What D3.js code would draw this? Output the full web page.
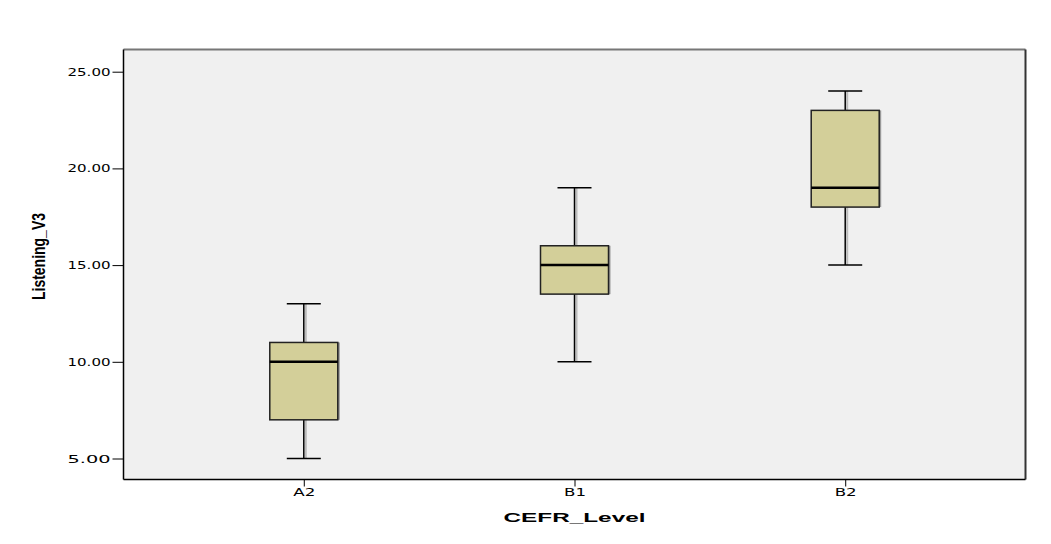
<!DOCTYPE html>
<html><head><meta charset="utf-8">
<script src="https://cdn.jsdelivr.net/npm/d3@7"></script>
<style>body{margin:0;background:#fff;}</style>
</head><body>
<svg id="c" width="1051" height="544"></svg>
<script>
const categories = ["A2", "B1", "B2"];
const whiskerLow = [5, 10, 15];
const q1 = [7, 13.5, 18];
const median = [10, 15, 19];
const q3 = [11, 16, 23];
const whiskerHigh = [13, 19, 24];
const yTicks = [5, 10, 15, 20, 25];
const xTitle = "CEFR_Level";
const yTitle = "Listening_V3";

const data = categories.map((c, i) => ({c, lo: whiskerLow[i], q1: q1[i], med: median[i], q3: q3[i], hi: whiskerHigh[i]}));

const L = 123.5, R = 1025.5, T = 49.5, B = 479.5;
const svg = d3.select("#c");
const x = d3.scalePoint().domain(categories).range([L, R]).padding(0.666);
const y = d3.scaleLinear().domain([5, 25]).range([458.5, 71.7]);

svg.append("rect").attr("x", L).attr("y", T).attr("width", R - L).attr("height", B - T)
  .attr("fill", "#F0F0F0").attr("stroke", "none");
// frame
svg.append("line").attr("x1", L).attr("x2", R).attr("y1", T).attr("y2", T).attr("stroke", "#777").attr("stroke-width", 2);
svg.append("line").attr("x1", R).attr("x2", R).attr("y1", T).attr("y2", B).attr("stroke", "#333").attr("stroke-width", 2);
svg.append("line").attr("x1", L).attr("x2", R).attr("y1", B).attr("y2", B).attr("stroke", "#000").attr("stroke-width", 1.5);
svg.append("line").attr("x1", L).attr("x2", L).attr("y1", T).attr("y2", B).attr("stroke", "#000").attr("stroke-width", 1.5);

// y axis
const yAxis = d3.axisLeft(y).tickValues(yTicks).tickSize(11).tickPadding(2).tickFormat(d3.format(".2f"));
const ya = svg.append("g").attr("transform", `translate(${L},0)`).call(yAxis);
ya.select(".domain").remove();
ya.selectAll(".tick line").attr("stroke", "#000");
ya.selectAll(".tick text").attr("font-family", "DejaVu Sans, sans-serif").attr("font-size", 10)
  .attr("fill", "#000").attr("textLength", 43).attr("lengthAdjust", "spacingAndGlyphs").attr("dy", "0.35em");

// x axis
const xAxis = d3.axisBottom(x).tickSize(7).tickPadding(2);
const xa = svg.append("g").attr("transform", `translate(0,${B})`).call(xAxis);
xa.select(".domain").remove();
xa.selectAll(".tick line").attr("stroke", "#000");
xa.selectAll(".tick text").attr("font-family", "DejaVu Sans, sans-serif").attr("font-size", 10)
  .attr("fill", "#000").attr("textLength", 22).attr("lengthAdjust", "spacingAndGlyphs");

// titles
svg.append("text").attr("x", x("B1")).attr("y", 522).attr("text-anchor", "middle")
  .attr("font-family", "Liberation Sans, Arial, sans-serif").attr("font-weight", "bold").attr("font-size", 13)
  .attr("textLength", 142).attr("lengthAdjust", "spacingAndGlyphs").text(xTitle);
svg.append("text").attr("transform", `translate(45,${(213+300)/2}) rotate(-90)`).attr("text-anchor", "middle")
  .attr("font-family", "Liberation Sans Narrow, Arial Narrow, sans-serif").attr("font-weight", "bold").attr("font-size", 18)
  .attr("textLength", 87).attr("lengthAdjust", "spacingAndGlyphs").text(yTitle);

const bw = 68, cw = 34;
const g = svg.selectAll("g.box").data(data).join("g").attr("class", "box");
// whisker shadows
g.append("line").attr("x1", d => x(d.c) + 2).attr("x2", d => x(d.c) + 2).attr("y1", d => y(d.hi)).attr("y2", d => y(d.lo)).attr("stroke", "#bbb").attr("stroke-width", 2);
g.append("line").attr("x1", d => x(d.c)).attr("x2", d => x(d.c)).attr("y1", d => y(d.hi)).attr("y2", d => y(d.lo)).attr("stroke", "#000").attr("stroke-width", 1.5);
g.append("line").attr("x1", d => x(d.c) - cw/2).attr("x2", d => x(d.c) + cw/2).attr("y1", d => y(d.hi)).attr("y2", d => y(d.hi)).attr("stroke", "#000").attr("stroke-width", 1.5);
g.append("line").attr("x1", d => x(d.c) - cw/2).attr("x2", d => x(d.c) + cw/2).attr("y1", d => y(d.lo)).attr("y2", d => y(d.lo)).attr("stroke", "#000").attr("stroke-width", 1.5);
// box shadow
g.append("rect").attr("x", d => x(d.c) - bw/2 + 2).attr("y", d => y(d.q3)).attr("width", bw).attr("height", d => y(d.q1) - y(d.q3))
  .attr("fill", "#999");
g.append("rect").attr("x", d => x(d.c) - bw/2).attr("y", d => y(d.q3)).attr("width", bw).attr("height", d => y(d.q1) - y(d.q3))
  .attr("fill", "#D3CF99").attr("stroke", "#222").attr("stroke-width", 1.5);
g.append("line").attr("x1", d => x(d.c) - bw/2).attr("x2", d => x(d.c) + bw/2).attr("y1", d => y(d.med)).attr("y2", d => y(d.med)).attr("stroke", "#000").attr("stroke-width", 2.5);
</script>
</body></html>
